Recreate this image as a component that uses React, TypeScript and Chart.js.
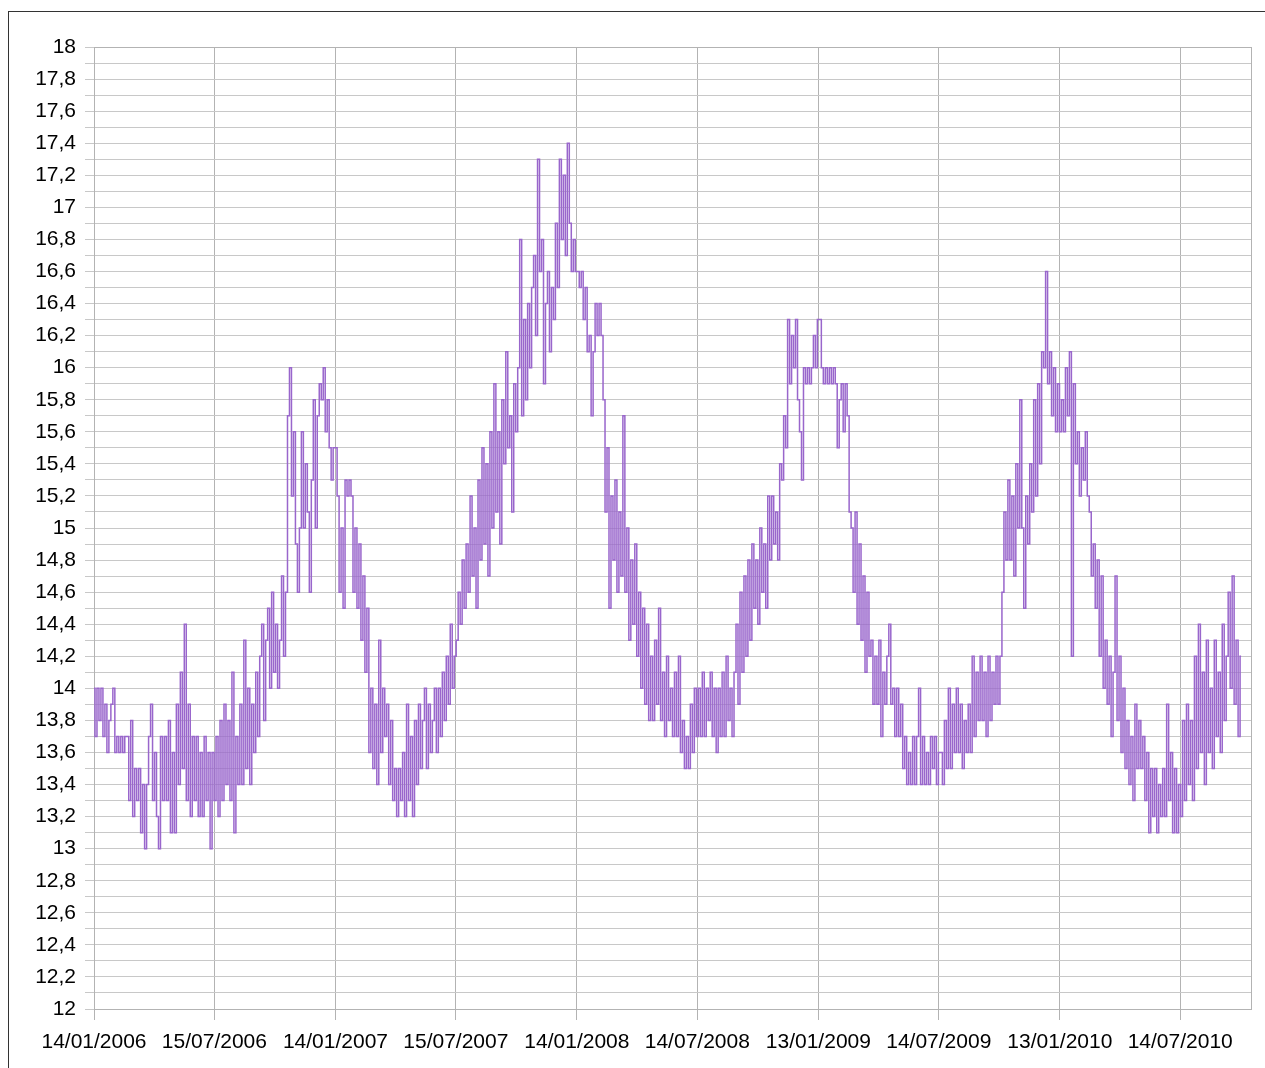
import React, { useEffect, useRef } from "react";
import { Chart, registerables } from "chart.js";

Chart.register(...registerables);

// Sampling: one reading every 3 days, starting 14/01/2006
const SAMPLE_STEP_DAYS = 3;

// X axis tick positions (days since 14/01/2006) and their labels
const tickDays = [0, 182, 365, 547, 730, 912, 1095, 1277, 1460, 1642];
const tickLabels = [
  "14/01/2006",
  "15/07/2006",
  "14/01/2007",
  "15/07/2007",
  "14/01/2008",
  "14/07/2008",
  "13/01/2009",
  "14/07/2009",
  "13/01/2010",
  "14/07/2010",
];

// Series values, half-year by half-year
const values2006H1 = [
  14.0, 13.7, 14.0, 13.8, 14.0, 13.7, 13.9, 13.6, 13.8, 13.9,
  14.0, 13.6, 13.7, 13.6, 13.7, 13.6, 13.7, 13.7, 13.3, 13.8,
  13.2, 13.5, 13.3, 13.5, 13.1, 13.4, 13.0, 13.4, 13.7, 13.9,
  13.3, 13.6, 13.2, 13.0, 13.7, 13.3, 13.7, 13.3, 13.8, 13.1,
  13.6, 13.1, 13.9, 13.4, 14.1, 13.5, 14.4, 13.3, 13.9, 13.2,
  13.7, 13.3, 13.7, 13.2, 13.6, 13.2, 13.7, 13.3, 13.6, 13.0,
  13.6,
];
const values2006H2 = [
  13.3, 13.7, 13.2, 13.8, 13.3, 13.9, 13.4, 13.8, 13.3, 14.1,
  13.1, 13.7, 13.4, 13.9, 13.4, 14.3, 13.5, 14.0, 13.4, 13.9,
  13.6, 14.1, 13.7, 14.2, 14.4, 13.8, 14.3, 14.5, 14.0, 14.6,
  14.1, 14.4, 14.0, 14.3, 14.7, 14.2, 14.6, 15.7, 16.0, 15.2,
  15.6, 14.9, 14.6, 15.0, 15.6, 15.0, 15.4, 15.1, 14.6, 15.3,
  15.8, 15.0, 15.7, 15.9, 15.8, 16.0, 15.6, 15.8, 15.5, 15.3,
  15.5,
];
const values2007H1 = [
  15.5, 15.2, 14.6, 15.0, 14.5, 15.3, 15.2, 15.3, 15.2, 14.6,
  15.0, 14.5, 14.9, 14.3, 14.7, 14.1, 14.5, 13.6, 14.0, 13.5,
  13.9, 13.4, 14.3, 13.6, 14.0, 13.7, 13.9, 13.4, 13.8, 13.3,
  13.5, 13.2, 13.5, 13.3, 13.6, 13.2, 13.9, 13.3, 13.7, 13.2,
  13.8, 13.4, 13.9, 13.5, 13.8, 14.0, 13.5, 13.9, 13.6, 13.8,
  14.0, 13.6, 14.0, 13.7, 14.1, 13.8, 14.2, 13.9, 14.4, 14.0,
  14.2,
];
const values2007H2 = [
  14.3, 14.6, 14.4, 14.8, 14.5, 14.9, 14.6, 15.2, 14.7, 15.0,
  14.5, 15.3, 14.8, 15.5, 14.9, 15.4, 14.7, 15.6, 15.0, 15.9,
  15.1, 15.6, 14.9, 15.8, 15.4, 16.1, 15.5, 15.7, 15.1, 15.9,
  15.6, 16.0, 16.8, 15.7, 16.3, 15.8, 16.4, 16.0, 16.5, 16.7,
  16.2, 17.3, 16.6, 16.8, 15.9, 16.4, 16.6, 16.1, 16.5, 16.3,
  16.9, 16.5, 17.3, 16.8, 17.2, 16.7, 17.4, 16.9, 16.6, 16.8,
  16.6,
];
const values2008H1 = [
  16.6, 16.5, 16.6, 16.3, 16.5, 16.1, 16.2, 15.7, 16.1, 16.4,
  16.2, 16.4, 16.2, 15.8, 15.1, 15.5, 14.5, 15.2, 14.8, 15.3,
  14.6, 15.1, 14.7, 15.7, 14.6, 15.0, 14.3, 14.8, 14.4, 14.9,
  14.2, 14.6, 14.0, 14.5, 13.9, 14.4, 13.8, 14.2, 13.8, 14.3,
  13.9, 14.5, 13.8, 14.1, 13.7, 14.2, 13.8, 14.0, 13.7, 14.1,
  13.7, 14.2, 13.6, 13.8, 13.5, 13.7, 13.5, 13.9, 13.6, 14.0,
  13.7,
];
const values2008H2 = [
  14.0, 13.7, 14.1, 13.7, 14.0, 13.8, 14.1, 13.7, 14.0, 13.6,
  14.0, 13.7, 14.1, 13.7, 14.2, 13.8, 14.0, 13.7, 14.1, 14.4,
  13.9, 14.6, 14.1, 14.7, 14.2, 14.8, 14.3, 14.9, 14.5, 14.8,
  14.4, 15.0, 14.6, 14.9, 14.5, 15.2, 14.8, 15.2, 14.9, 15.1,
  14.8, 15.4, 15.3, 15.7, 15.5, 16.3, 15.9, 16.2, 16.0, 16.3,
  15.8, 15.6, 15.3, 16.0, 15.9, 16.0, 15.9, 16.0, 16.2, 16.0,
  16.3,
];
const values2009H1 = [
  16.3, 16.0, 15.9, 16.0, 15.9, 16.0, 15.9, 16.0, 15.9, 15.5,
  15.8, 15.9, 15.6, 15.9, 15.7, 15.1, 15.0, 14.6, 15.1, 14.4,
  14.9, 14.3, 14.7, 14.1, 14.6, 14.2, 14.3, 13.9, 14.2, 13.9,
  14.3, 13.7, 14.1, 13.9, 14.2, 14.4, 13.9, 14.0, 13.7, 14.0,
  13.7, 13.9, 13.5, 13.7, 13.4, 13.6, 13.4, 13.7, 13.4, 13.7,
  14.0, 13.4, 13.7, 13.4, 13.6, 13.4, 13.7, 13.5, 13.7, 13.4,
  13.6,
];
const values2009H2 = [
  13.6, 13.4, 13.8, 13.5, 14.0, 13.5, 13.9, 13.6, 14.0, 13.6,
  13.9, 13.5, 13.8, 13.6, 13.9, 13.6, 14.2, 13.7, 14.1, 13.8,
  14.2, 13.8, 14.1, 13.7, 14.2, 13.8, 14.1, 13.9, 14.2, 13.9,
  14.2, 14.6, 15.1, 14.8, 15.3, 14.8, 15.2, 14.7, 15.4, 15.0,
  15.8, 15.0, 14.5, 15.2, 14.9, 15.4, 15.1, 15.8, 15.2, 15.9,
  15.4, 16.1, 16.0, 16.6, 15.9, 16.1, 15.7, 16.0, 15.6, 15.9,
  15.6,
];
const values2010H1 = [
  15.8, 15.6, 16.0, 15.7, 16.1, 14.2, 15.9, 15.4, 15.6, 15.2,
  15.5, 15.3, 15.6, 15.2, 15.1, 14.7, 14.9, 14.5, 14.8, 14.2,
  14.7, 14.0, 14.3, 13.9, 14.2, 13.7, 14.1, 14.7, 13.8, 14.2,
  13.6, 14.0, 13.5, 13.8, 13.4, 13.7, 13.3, 13.9, 13.5, 13.8,
  13.5, 13.7, 13.3, 13.6, 13.1, 13.5, 13.2, 13.5, 13.1, 13.4,
  13.2, 13.5, 13.2, 13.9, 13.3, 13.6, 13.1, 13.5, 13.1, 13.4,
  13.2,
];
const values2010H2 = [
  13.8, 13.3, 13.9, 13.4, 13.8, 13.3, 14.2, 13.5, 14.4, 13.6,
  14.1, 13.4, 14.3, 13.6, 14.0, 13.5, 14.3, 13.7, 14.1, 13.6,
  14.4, 13.8, 14.2, 14.6, 14.0, 14.7, 13.9, 14.3, 13.7, 14.2,
];

const allValues = [
  ...values2006H1,
  ...values2006H2,
  ...values2007H1,
  ...values2007H2,
  ...values2008H1,
  ...values2008H2,
  ...values2009H1,
  ...values2009H2,
  ...values2010H1,
  ...values2010H2,
];

const fmtNum = (v: number) => {
  const r = Math.round(v * 10) / 10;
  return String(r).replace(".", ",");
};

const plotFrame = {
  id: "plotFrame",
  beforeDatasetsDraw(chart: any) {
    const { ctx, chartArea } = chart;
    ctx.save();
    ctx.strokeStyle = "#b3b3b3";
    ctx.lineWidth = 1;
    ctx.strokeRect(
      Math.round(chartArea.left) + 0.5,
      Math.round(chartArea.top) + 0.5,
      Math.round(chartArea.right - chartArea.left),
      Math.round(chartArea.bottom - chartArea.top)
    );
    ctx.restore();
  },
};

export default function App() {
  const canvasRef = useRef<HTMLCanvasElement | null>(null);

  useEffect(() => {
    if (!canvasRef.current) return;
    const data = allValues.map((v, k) => ({ x: k * SAMPLE_STEP_DAYS, y: v }));
    const chart = new Chart(canvasRef.current, {
      type: "line",
      data: {
        datasets: [
          {
            data,
            borderColor: "#9966cc",
            borderWidth: 1.5,
            pointRadius: 0,
            tension: 0,
            stepped: "middle",
            fill: false,
          },
        ],
      },
      options: {
        animation: false,
        responsive: false,
        maintainAspectRatio: false,
        layout: { padding: { left: 0, top: 39, right: 6, bottom: 0 } },
        plugins: {
          legend: { display: false },
          tooltip: { enabled: false },
        },
        scales: {
          x: {
            type: "linear",
            min: 0,
            max: 1749,
            afterBuildTicks: (axis: any) => {
              axis.ticks = tickDays.map((d) => ({ value: d }));
            },
            afterFit: (axis: any) => {
              axis.height = 51;
            },
            grid: {
              color: "#b3b3b3",
              lineWidth: 1,
              drawTicks: true,
              tickLength: 11,
            },
            border: { display: true, color: "#b3b3b3", width: 1 },
            ticks: {
              autoSkip: false,
              maxRotation: 0,
              minRotation: 0,
              padding: 10,
              color: "#000",
              font: { family: "'Liberation Sans', Arial, sans-serif", size: 21 },
              callback: (value: any) => {
                const i = tickDays.indexOf(Number(value));
                return i >= 0 ? tickLabels[i] : "";
              },
            },
          },
          y: {
            type: "linear",
            min: 12,
            max: 18,
            afterFit: (axis: any) => {
              axis.width = 86;
            },
            grid: {
              color: "#c8c8c8",
              lineWidth: 1,
              drawTicks: true,
              tickLength: 9,
            },
            border: { display: true, color: "#b3b3b3", width: 1 },
            ticks: {
              stepSize: 0.1,
              autoSkip: false,
              padding: 9,
              color: "#000",
              font: { family: "'Liberation Sans', Arial, sans-serif", size: 21 },
              callback: (value: any, index: number) =>
                index % 2 === 0 ? fmtNum(Number(value)) : "",
            },
          },
        },
      },
      plugins: [plotFrame],
    });
    return () => chart.destroy();
  }, []);

  return (
    <div
      style={{
        position: "relative",
        width: 1249,
        height: 1052,
      }}
    >
      <div
        style={{
          position: "fixed",
          left: 8,
          top: 11,
          width: 1400,
          height: 1200,
          border: "1px solid #333",
          boxSizing: "border-box",
        }}
      />
      <canvas
        ref={canvasRef}
        width={1249}
        height={1052}
        style={{ position: "absolute", left: 0, top: 0, width: 1249, height: 1052 }}
      />
    </div>
  );
}
